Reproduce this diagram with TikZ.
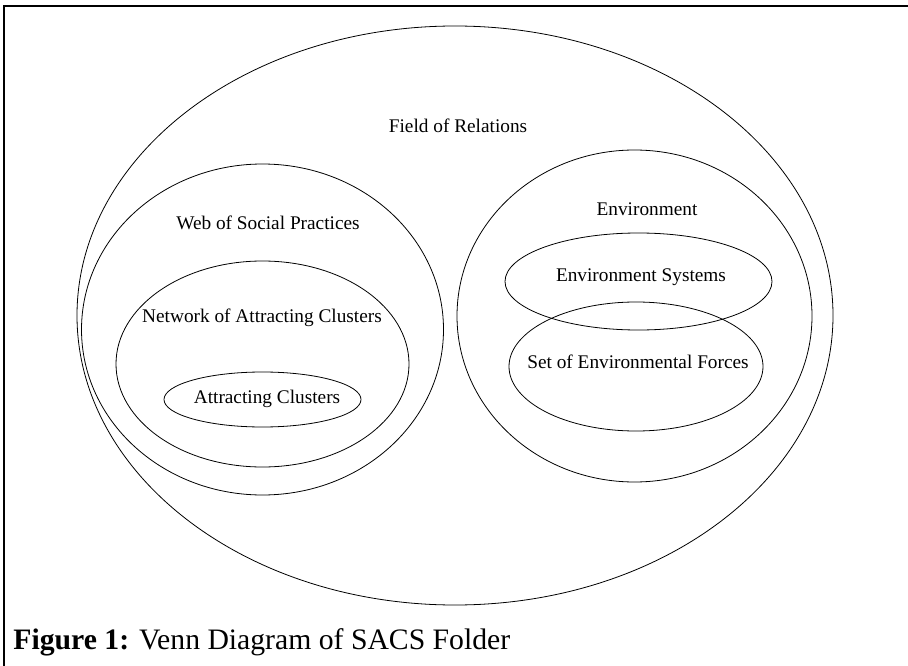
\documentclass[tikz,border=0pt]{standalone}
\usepackage{fontspec}
\setmainfont{Liberation Serif}
\usepackage{tikz}

\begin{document}
\begin{tikzpicture}[x=1pt, y=-1pt, line width=0.8pt,
    every node/.style={font=\fontsize{19.3}{22}\selectfont},
    lbl/.style={inner sep=0pt}]

  % parameters
  \def\capsize{29.7} % caption font size

  \useasboundingbox (0,0) rectangle (908,666);

  % ---- frame: only the top and left edges ----
  \draw[line width=1.4pt] (4,666) -- (4,6) -- (908,6);

  % ---- outer: Field of Relations ----
  \draw (455,315.5) ellipse[x radius=378, y radius=289.5];
  \node[lbl] (field) at (458,126) {Field of Relations};

  % ---- left: social practices ----
  \begin{scope}
    \draw (262.5,329.5) ellipse[x radius=181, y radius=165.5];
    \draw (262.5,364) ellipse[x radius=146.5, y radius=103];
    \draw (262.5,399.5) ellipse[x radius=98.5, y radius=27.5];
    \node[lbl] (web) at (268,223) {Web of Social Practices};
    \node[lbl] (network) at (262,318) {Network of Attracting Clusters};
    \node[lbl] (clusters) at (267,399) {Attracting Clusters};
  \end{scope}

  % ---- right: environment ----
  \begin{scope}
    \draw (634.5,316) ellipse[x radius=177.5, y radius=166];
    \draw (638.5,281.5) ellipse[x radius=133.5, y radius=48.5];
    \draw (636,366.5) ellipse[x radius=127, y radius=64.5];
    \node[lbl] (env) at (647,209) {Environment};
    \node[lbl] (envsys) at (641,277) {Environment Systems};
    \node[lbl] (forces) at (638,362) {Set of Environmental Forces};
  \end{scope}

  % caption
  \node[lbl, anchor=base west, font=\fontsize{\capsize}{34}\selectfont] (caption) at (13,649)
    {\textbf{Figure 1:} Venn Diagram of SACS Folder};

\end{tikzpicture}
\end{document}
